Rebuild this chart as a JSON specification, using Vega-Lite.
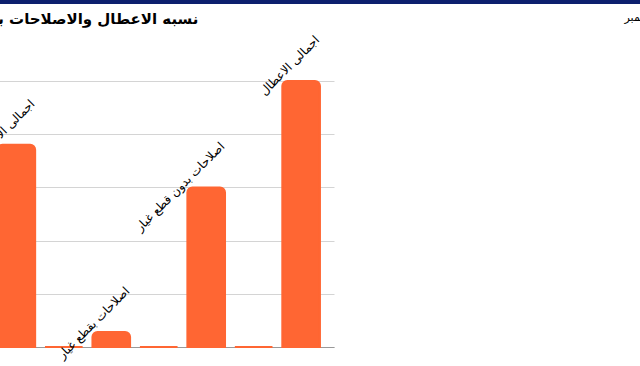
{
  "$schema": "https://vega.github.io/schema/vega-lite/v6.json",
  "width": 334,
  "height": 266,
  "autosize": "none",
  "padding": {"left": 0, "top": 81, "right": 306, "bottom": 19},
  "background": "#ffffff",
  "config": {"view": {"stroke": null}, "font": "DejaVu Sans"},
  "data": {
    "values": [
      {"pos": 1, "label": "", "value": 0},
      {"pos": 2, "label": "اجمالى الاصلاحات", "value": 3.8},
      {"pos": 3, "label": "", "value": 0},
      {"pos": 4, "label": "اصلاحات بقطع غيار", "value": 0.28},
      {"pos": 5, "label": "", "value": 0},
      {"pos": 6, "label": "اصلاحات بدون قطع غيار", "value": 3.0},
      {"pos": 7, "label": "", "value": 0},
      {"pos": 8, "label": "اجمالى الاعطال", "value": 5.0}
    ]
  },
  "layer": [
    {
      "layer": [
        {
          "mark": {"type": "bar", "color": "#FF6633", "stroke": "#FF6633", "strokeWidth": 2, "cornerRadiusTopLeft": 5, "cornerRadiusTopRight": 5},
          "encoding": {
            "x": {
              "field": "pos", "type": "ordinal",
              "scale": {"range": [-64, 334], "paddingInner": 0.207, "paddingOuter": 0.296},
              "axis": {"orient": "bottom", "labels": false, "ticks": false, "title": null, "domainColor": "#999999", "grid": false}
            },
            "y": {
              "field": "value", "type": "quantitative",
              "scale": {"domain": [0, 5], "nice": false},
              "axis": {"values": [0, 1, 2, 3, 4, 5], "labels": false, "ticks": false, "domain": false, "title": null, "gridColor": "#d4d4d4"}
            }
          }
        },
        {
          "transform": [{"filter": "datum.value > 0"}],
          "mark": {"type": "text", "angle": 315, "align": "right", "baseline": "middle", "dx": 42, "dy": -19, "fontSize": 12, "color": "#000000"},
          "encoding": {
            "x": {"field": "pos", "type": "ordinal"},
            "y": {"field": "value", "type": "quantitative"},
            "text": {"field": "label"}
          }
        }
      ]
    },
    {
      "mark": {"type": "point", "opacity": 0},
      "encoding": {
        "x": {
          "field": "value", "type": "quantitative",
          "scale": {"range": [-10, 700]},
          "axis": {"orient": "top", "offset": 79.5, "domainColor": "#0d1f6e", "domainWidth": 4, "labels": false, "ticks": false, "grid": false,
                   "title": "نسبه الاعطال والاصلاحات بالاقسام لشهر نوفمبر", "titleX": 198, "titleY": 22, "titleAlign": "right", "titleBaseline": "alphabetic",
                   "titleFontSize": 15, "titleFontWeight": "bold", "titleColor": "#000000"}
        },
        "y": {
          "field": "value", "type": "quantitative",
          "axis": {"orient": "right", "domain": false, "labels": false, "ticks": false, "grid": false,
                   "title": "نوفمبر", "titleAngle": 0, "titleX": 290, "titleY": -61, "titleAlign": "left", "titleBaseline": "alphabetic",
                   "titleFontSize": 11, "titleFontWeight": "normal", "titleColor": "#000000"}
        }
      }
    }
  ],
  "resolve": {"scale": {"x": "independent", "y": "independent"}}
}
